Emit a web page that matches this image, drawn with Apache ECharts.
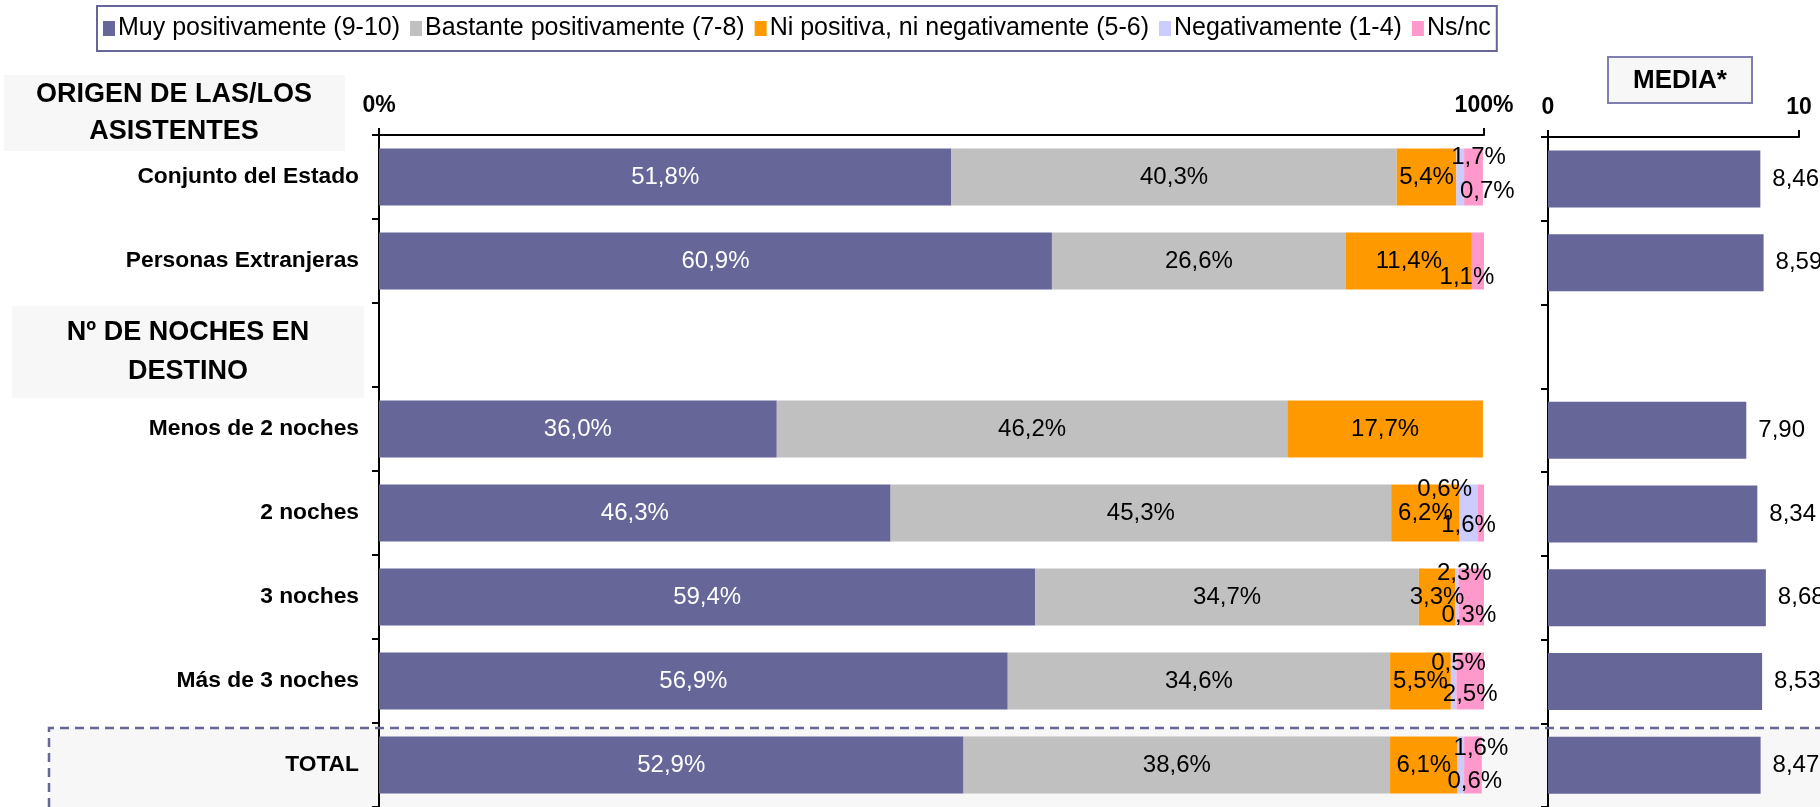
<!DOCTYPE html>
<html>
<head>
<meta charset="utf-8">
<script src="https://cdn.jsdelivr.net/npm/echarts@6/dist/echarts.min.js"></script>
<style>
  html, body { margin: 0; padding: 0; background: #fff; }
  #chart_one { width: 1820px; height: 807px; }
</style>
</head>
<body>
<div id="chart_one"></div>
<script>
// rows, top to bottom (row 2 is the gap under the "Nº de noches" header)
const categories = ['Conjunto del Estado', 'Personas Extranjeras', '', 'Menos de 2 noches',
                    '2 noches', '3 noches', 'Más de 3 noches', 'TOTAL'];
const muyPositivamente = [51.8, 60.9, null, 36.0, 46.3, 59.4, 56.9, 52.9];
const bastantePositivamente = [40.3, 26.6, null, 46.2, 45.3, 34.7, 34.6, 38.6];
const niPositivaNiNegativa = [5.4, 11.4, null, 17.7, 6.2, 3.3, 5.5, 6.1];
const negativamente = [0.7, 0, null, 0, 1.6, 0.3, 0.5, 0.6];
const nsnc = [1.7, 1.1, null, 0, 0.6, 2.3, 2.5, 1.6];
const media = [8.46, 8.59, null, 7.90, 8.34, 8.68, 8.53, 8.47];
const seriesNames = ['Muy positivamente (9-10)', 'Bastante positivamente (7-8)',
                     'Ni positiva, ni negativamente (5-6)', 'Negativamente (1-4)', 'Ns/nc'];

// label nudges for the thin segments (excel had them dragged by hand)
const negLabelOffset = [[27, 14], [0, 0], [0, 0], [0, 0], [0, 12], [12, 18], [5, -18], [14, 16]];
const nsLabelOffset = [[5, -20], [-11, 16], [0, 0], [0, 0], [-36, -24], [-7, -24], [0, 13], [8, -17]];

const colors = ['#666699', '#C0C0C0', '#FF9900', '#CCCCFF', '#FF99CC'];
const FONT = 'Liberation Sans, Arial, sans-serif';
const pct = v => (v == null || v === 0) ? '' : v.toFixed(1).replace('.', ',') + '%';

var theDom = document.getElementById('chart_one');
var myChart = echarts.init(theDom);

function withOffsets(values, offsets) {
  return values.map((v, i) => ({ value: v, label: { offset: offsets[i] } }));
}

function stackSeries(name, data, color, labelColor) {
  return {
    name: name,
    type: 'bar',
    stack: 'total',
    xAxisIndex: 0,
    yAxisIndex: 0,
    barWidth: 57,
    itemStyle: { color: color },
    label: {
      show: true,
      position: 'inside',
      color: labelColor,
      fontSize: 24,
      fontFamily: FONT,
      formatter: p => pct(p.value)
    },
    data: data
  };
}

var option = {
  animation: false,
  textStyle: { fontFamily: FONT },
  color: colors,
  legend: {
    data: seriesNames,
    left: 97,
    top: 6,
    padding: [10, 6],
    borderColor: '#666699',
    borderWidth: 2,
    itemWidth: 12,
    itemHeight: 15,
    itemGap: 10,
    icon: 'rect',
    textStyle: { fontSize: 25, color: '#000', fontFamily: FONT, padding: [0, 0, 0, -2] }
  },
  grid: [
    { left: 379, top: 135, width: 1105, height: 677 },
    { left: 1548, top: 137, width: 251, height: 677 }
  ],
  xAxis: [
    {
      gridIndex: 0, type: 'value', position: 'top', min: 0, max: 100, interval: 100,
      axisLine: { show: true, lineStyle: { color: '#000', width: 2 } },
      axisTick: { show: true, length: 7, lineStyle: { color: '#000', width: 2 } },
      splitLine: { show: false },
      axisLabel: { formatter: '{value}%', fontSize: 23, fontWeight: 'bold', color: '#000', margin: 18 }
    },
    {
      gridIndex: 1, type: 'value', position: 'top', min: 0, max: 10, interval: 10,
      axisLine: { show: true, lineStyle: { color: '#000', width: 2 } },
      axisTick: { show: true, length: 7, lineStyle: { color: '#000', width: 2 } },
      splitLine: { show: false },
      axisLabel: { fontSize: 23, fontWeight: 'bold', color: '#000', margin: 18 }
    }
  ],
  yAxis: [
    {
      gridIndex: 0, type: 'category', inverse: true, data: categories,
      axisLine: { show: true, lineStyle: { color: '#000', width: 2 } },
      axisTick: { show: true, length: 7, lineStyle: { color: '#000', width: 2 } },
      axisLabel: { fontSize: 22.8, fontWeight: 'bold', color: '#000', margin: 20 }
    },
    {
      gridIndex: 1, type: 'category', inverse: true, data: categories,
      axisLine: { show: true, lineStyle: { color: '#000', width: 2 } },
      axisTick: { show: true, length: 7, lineStyle: { color: '#000', width: 2 } },
      axisLabel: { show: false }
    }
  ],
  series: [
    stackSeries(seriesNames[0], muyPositivamente, colors[0], '#fff'),
    stackSeries(seriesNames[1], bastantePositivamente, colors[1], '#000'),
    stackSeries(seriesNames[2], niPositivaNiNegativa, colors[2], '#000'),
    stackSeries(seriesNames[3], withOffsets(negativamente, negLabelOffset), colors[3], '#000'),
    stackSeries(seriesNames[4], withOffsets(nsnc, nsLabelOffset), colors[4], '#000'),
    {
      name: 'Media',
      type: 'bar',
      xAxisIndex: 1,
      yAxisIndex: 1,
      barWidth: 57,
      itemStyle: { color: '#666699' },
      label: {
        show: true,
        position: 'right',
        distance: 12,
        fontSize: 24,
        color: '#000',
        formatter: p => p.value == null ? '' : p.value.toFixed(2).replace('.', ',')
      },
      data: media
    }
  ],
  graphic: [
    // TOTAL band
    { type: 'rect', z: -10, silent: true, shape: { x: 49, y: 728, width: 1771, height: 79 }, style: { fill: '#f7f7f7' } },
    { type: 'polyline', z: 10, silent: true, shape: { points: [[49, 807], [49, 728], [1820, 728]] },
      style: { stroke: '#666699', lineWidth: 2.5, lineDash: [9, 6], fill: null } },
    // section headers
    { type: 'rect', z: -10, silent: true, shape: { x: 4, y: 75, width: 341, height: 76 }, style: { fill: '#f7f7f7' } },
    { type: 'text', silent: true, x: 174, y: 113,
      style: { text: 'ORIGEN DE LAS/LOS\nASISTENTES', font: 'bold 27px ' + FONT, fill: '#000',
               align: 'center', verticalAlign: 'middle', lineHeight: 37 } },
    { type: 'rect', z: -10, silent: true, shape: { x: 12, y: 306, width: 352, height: 92 }, style: { fill: '#f7f7f7' } },
    { type: 'text', silent: true, x: 188, y: 352,
      style: { text: 'Nº DE NOCHES EN\nDESTINO', font: 'bold 27px ' + FONT, fill: '#000',
               align: 'center', verticalAlign: 'middle', lineHeight: 39 } },
    // MEDIA* box
    { type: 'rect', silent: true, shape: { x: 1608, y: 57, width: 144, height: 46 },
      style: { fill: '#f7f7f7', stroke: '#8080b0', lineWidth: 2 } },
    { type: 'text', silent: true, x: 1680, y: 81,
      style: { text: 'MEDIA*', font: 'bold 26px ' + FONT, fill: '#000', align: 'center', verticalAlign: 'middle' } }
  ]
};

myChart.setOption(option);
window.onresize = function () {
  myChart.resize();
};
</script>
</body>
</html>
